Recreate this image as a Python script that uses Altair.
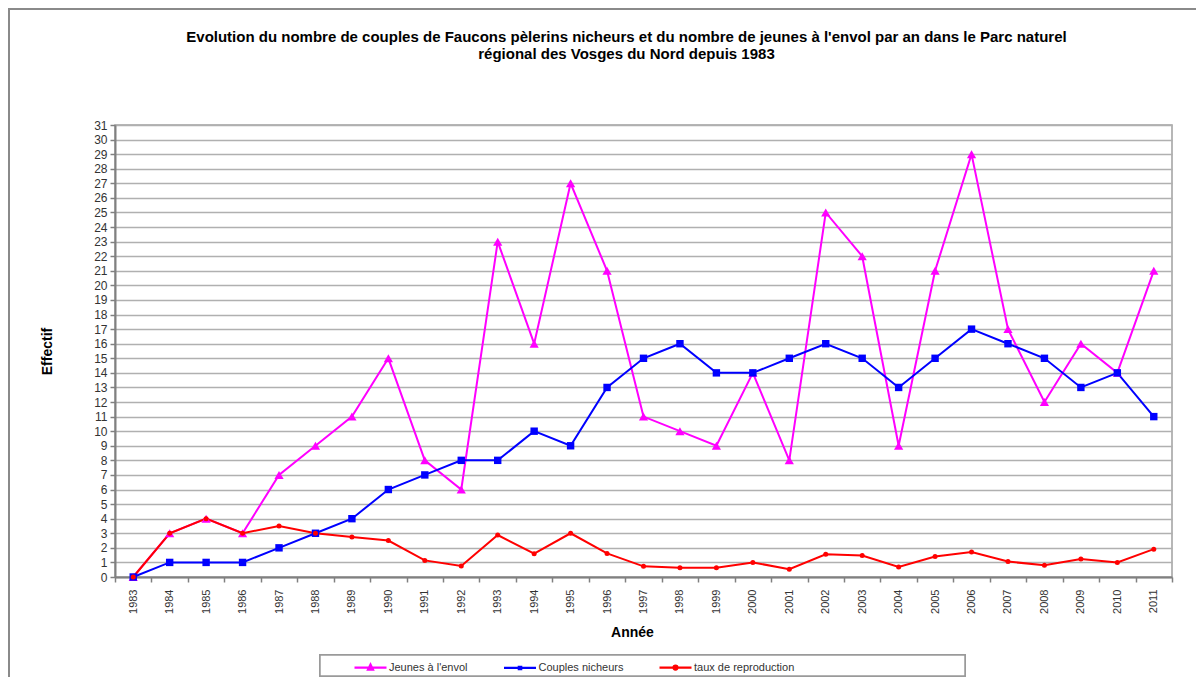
import altair as alt
import pandas as pd

years = [str(y) for y in range(1983, 2012)]
jeunes = [0, 3, 4, 3, 7, 9, 11, 15, 8, 6, 23, 16, 27, 21, 11, 10, 9, 14, 8, 25, 22, 9, 21, 29, 17, 12, 16, 14, 21]
couples = [0, 1, 1, 1, 2, 3, 4, 6, 7, 8, 8, 10, 9, 13, 15, 16, 14, 14, 15, 16, 15, 13, 15, 17, 16, 15, 13, 14, 11]
taux = [0, 3, 4, 3, 3.5, 3, 2.75, 2.5, 1.14, 0.75, 2.88, 1.6, 3, 1.62, 0.73, 0.63, 0.64, 1.0, 0.53, 1.56, 1.47, 0.69, 1.4, 1.71, 1.06, 0.8, 1.23, 1.0, 1.91]

series_names = ["Jeunes à l'envol", "Couples nicheurs", "taux de reproduction"]
series_colors = ["#FF00FF", "#0000FF", "#FF0000"]
series_shapes = ["triangle-up", "square", "circle"]
series_sizes = [85, 25, 75]
legend_paths = [
    "M-1.6,0H1.6M0,-0.3L0.25,0.2H-0.25Z",
    "M-1.6,0H1.6M-0.12,-0.12H0.12V0.12H-0.12Z",
    "M-1.6,0H1.6M0.2,0A0.2,0.2 0 1,1 -0.2,0A0.2,0.2 0 1,1 0.2,0Z",
]

title_lines = [
    "Evolution du nombre de couples de Faucons pèlerins  nicheurs et du nombre de jeunes à l'envol par an dans le Parc naturel",
    "régional des  Vosges du Nord depuis  1983",
]

rows = []
for name, vals in zip(series_names, [jeunes, couples, taux]):
    for yr, v in zip(years, vals):
        rows.append({"annee": yr, "valeur": v, "serie": name})
df = pd.DataFrame(rows)

FONT = "Liberation Sans"
W, H = 1057, 452

x_enc = alt.X(
    "annee:O",
    bandPosition=0.5,
    scale=alt.Scale(type="band", paddingInner=0, paddingOuter=0),
    axis=alt.Axis(
        title="Année", labelAngle=270, tickBand="extent", tickSize=5,
        labelFont=FONT, labelFontSize=11, labelColor="#333333", labelPadding=7,
        domainColor="#808080", domainWidth=2, tickColor="#808080", tickWidth=1.5,
        titleFont=FONT, titleFontSize=14, titleFontWeight="bold", titleColor="#000000",
        titlePadding=12, titleX=517, grid=False,
    ),
)
y_enc = alt.Y(
    "valeur:Q",
    scale=alt.Scale(domain=[0, 31], nice=False, zero=True),
    axis=alt.Axis(
        title="Effectif", values=list(range(32)), tickSize=5,
        labelFont=FONT, labelFontSize=12, labelColor="#333333", labelPadding=3,
        domainColor="#808080", domainWidth=2, tickColor="#808080", tickWidth=1.5,
        gridColor="#b0b0b0", gridWidth=1.5, grid=True,
        titleFont=FONT, titleFontSize=14, titleFontWeight="bold", titleColor="#000000",
        titlePadding=39,
    ),
)

color_scale = alt.Scale(domain=series_names, range=series_colors)

lines = alt.Chart(df).mark_line(strokeWidth=2).encode(
    x=x_enc, y=y_enc,
    color=alt.Color("serie:N", scale=color_scale, legend=None),
    detail="serie:N",
)

points = alt.Chart(df).mark_point(filled=True, opacity=1).encode(
    x=x_enc, y=y_enc,
    color=alt.Color("serie:N", scale=color_scale, legend=None),
    shape=alt.Shape("serie:N", scale=alt.Scale(domain=series_names, range=series_shapes), legend=None),
    size=alt.Size("serie:N", scale=alt.Scale(domain=series_names, range=series_sizes), legend=None),
)

leg = dict(
    orient="none", legendX=244, legendY=531, direction="horizontal", title=None,
    symbolSize=400, symbolStrokeWidth=2.2, labelOffset=7, columnPadding=31.5,
    labelFont=FONT, labelFontSize=11, labelColor="#333333", padding=0,
)

legend_layer = alt.Chart(df).mark_point(filled=False, size=0, strokeWidth=0, opacity=1).encode(
    x=x_enc,
    y=alt.value(200),
    color=alt.Color("serie:N", scale=color_scale, legend=alt.Legend(**leg)),
    shape=alt.Shape(
        "serie:N", scale=alt.Scale(domain=series_names, range=legend_paths),
        legend=alt.Legend(**leg),
    ),
)

legend_box = alt.Chart(df).mark_rect(fill="white", stroke="#9a9a9a", strokeWidth=1.5).encode(
    x=alt.value(205), x2=alt.value(850), y=alt.value(530), y2=alt.value(551),
)

frame_left = alt.Chart(df).mark_rule(color="#8a8a8a", strokeWidth=2).encode(
    x=alt.value(-106), y=alt.value(-117), y2=alt.value(560),
)
frame_top = alt.Chart(df).mark_rule(color="#8a8a8a", strokeWidth=2).encode(
    x=alt.value(-106), x2=alt.value(1200), y=alt.value(-116),
)

chart = alt.layer(
    frame_left, frame_top, legend_box, lines, points, legend_layer
).resolve_scale(
    color="independent", shape="independent", size="independent"
).resolve_legend(
    color="independent", shape="independent"
).properties(
    width=W, height=H,
    autosize=alt.AutoSizeParams(type="none"),
    padding={"left": 107, "top": 117, "right": 24, "bottom": 100},
    title=alt.TitleParams(
        text=title_lines, font=FONT, fontSize=15, fontWeight="bold", color="#000000",
        anchor="middle", frame="group", dx=-17, offset=-55, lineHeight=17,
    ),
).configure_view(
    stroke="#a0a0a0", strokeWidth=1.5
)

chart.save("out.html", embed_options={"renderer": "svg", "actions": False})
